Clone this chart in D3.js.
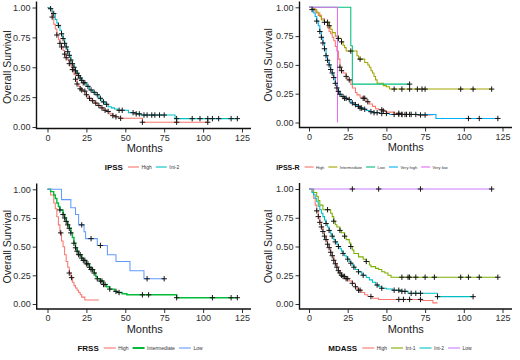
<!DOCTYPE html>
<html><head><meta charset="utf-8">
<script src="https://cdn.jsdelivr.net/npm/d3@7"></script>
<style>
body{margin:0;background:#fff}
svg{display:block}
text{font-family:"Liberation Sans",Arial,sans-serif}
</style>
</head><body>
<svg id="c" width="520" height="360"></svg>
<script>
// ---------- tick labels ----------
const monthTicks = [0, 25, 50, 75, 100, 125];
const survivalTicks = [0, 0.25, 0.5, 0.75, 1];

// ---------- IPSS ----------
const ipssGroups = ["High", "Int-2"];
const ipssHighSteps = [[0,1],[2,0.97],[3,0.92],[4,0.86],[5,0.82],[6,0.77],[7,0.73],[8,0.70],[9,0.67],[10,0.64],[11,0.61],[12,0.58],[13,0.56],[14,0.53],[15,0.51],[16,0.48],[17,0.44],[18,0.40],[19,0.36],[20,0.34],[21,0.32],[22,0.31],[23,0.30],[25,0.27],[26,0.25],[27,0.24],[28,0.22],[30,0.20],[32,0.18],[34,0.16],[36,0.14],[38,0.13],[40,0.11],[42,0.095],[44,0.085],[46,0.073],[61,0.04]];
const ipssHighCensor = [3,6,8,9,11,12,14,16,18,19,21,22,24,25,27,29,31,33,35,37,39,42,44,47,61,83,103];
const ipssHighEnd = 103;
const ipssInt2Steps = [[0,1],[1,0.99],[3,0.95],[5,0.90],[6,0.87],[7,0.85],[8,0.81],[9,0.78],[10,0.74],[11,0.70],[12,0.67],[13,0.63],[14,0.60],[15,0.56],[16,0.53],[17,0.50],[18,0.47],[19,0.45],[20,0.43],[21,0.41],[22,0.39],[23,0.37],[25,0.34],[27,0.31],[29,0.29],[31,0.27],[33,0.24],[35,0.21],[37,0.19],[39,0.17],[41,0.16],[43,0.15],[45,0.14],[52,0.12],[57,0.11],[60,0.10],[82,0.07]];
const ipssInt2Censor = [2,4,7,9,10,11,12,13,14,15,16,17,18,19,20,21,22,23,24,26,28,30,32,34,36,38,46,48,55,57,59,62,64,67,69,72,75,83,93,98,103,106,110,118,122];
const ipssInt2End = 122;

// ---------- IPSS-R ----------
const ipssrGroups = ["High", "Intermediate", "Low", "Very high", "Very low"];
const ipssrHighSteps = [[0,1],[2,0.99],[4,0.96],[6,0.93],[8,0.90],[10,0.87],[12,0.82],[13,0.79],[14,0.77],[15,0.74],[16,0.71],[17,0.66],[18,0.62],[19,0.55],[20,0.48],[21,0.45],[22,0.43],[24,0.40],[25,0.37],[27,0.33],[28,0.30],[30,0.26],[31,0.24],[33,0.22],[35,0.21],[37,0.18],[39,0.16],[41,0.14],[43,0.12],[45,0.11],[48,0.10],[50,0.09],[55,0.08],[60,0.07],[70,0.065]];
const ipssrHighCensor = [20,21,24,26,35,36,38,47,48,58,60,62,65,69,72,75];
const ipssrHighEnd = 80;
const ipssrIntSteps = [[0,1],[3,0.98],[5,0.95],[7,0.92],[8,0.89],[10,0.87],[13,0.84],[14,0.81],[15,0.78],[17,0.75],[19,0.73],[21,0.70],[22,0.67],[23,0.65],[24,0.62],[31,0.58],[32,0.55],[36,0.52],[38,0.50],[39,0.48],[40,0.45],[41,0.43],[42,0.40],[43,0.37],[44,0.34],[48,0.32],[50,0.31],[52,0.29]];
const ipssrIntCensor = [10,12,13,19,21,27,33,55,60,65,70,73,75,98,106,118];
const ipssrIntEnd = 118;
const ipssrLowSteps = [[0,1],[27,0.667],[28,0.333]];
const ipssrLowCensor = [65];
const ipssrLowEnd = 65;
const ipssrVhighSteps = [[0,1],[2,0.98],[3,0.95],[4,0.92],[5,0.88],[6,0.84],[7,0.79],[8,0.74],[9,0.69],[10,0.64],[11,0.58],[12,0.54],[13,0.50],[14,0.46],[15,0.43],[16,0.39],[17,0.34],[18,0.30],[19,0.27],[20,0.245],[21,0.225],[23,0.21],[25,0.20],[27,0.17],[29,0.155],[31,0.14],[33,0.125],[35,0.115],[37,0.105],[39,0.094],[42,0.085],[46,0.078],[52,0.07],[82,0.035]];
const ipssrVhighCensor = [2,5,7,8,9,10,11,12,13,14,15,16,17,18,19,20,22,23,24,26,28,30,32,33,34,36,40,42,44,47,50,55,58,60,63,66,103,110,122];
const ipssrVhighEnd = 122;
const ipssrVlowSteps = [[0,1],[18.4,0]];
const ipssrVlowCensor = [];
const ipssrVlowEnd = 18.4;

// ---------- FRSS ----------
const frssGroups = ["High", "Intermediate", "Low"];
const frssHighSteps = [[0,1],[2,0.95],[4,0.88],[5,0.83],[6,0.76],[7,0.69],[8,0.62],[9,0.55],[10,0.50],[11,0.43],[12,0.37],[13,0.32],[14,0.27],[15,0.23],[16,0.19],[17,0.16],[18,0.14],[19,0.12],[20,0.10],[21,0.08],[22,0.06],[24,0.035]];
const frssHighCensor = [8.5,14,15.5];
const frssHighEnd = 33;
const frssIntSteps = [[0,1],[2,0.98],[4,0.95],[5,0.92],[6,0.88],[7,0.85],[8,0.82],[10,0.78],[11,0.75],[12,0.72],[13,0.69],[14,0.66],[15,0.62],[16,0.58],[17,0.53],[18,0.49],[19,0.46],[20,0.43],[22,0.40],[23,0.38],[25,0.35],[27,0.32],[28,0.30],[30,0.27],[31,0.24],[32,0.22],[34,0.20],[36,0.17],[38,0.15],[40,0.13],[43,0.11],[45,0.10],[48,0.09],[51,0.08],[83,0.055]];
const frssIntCensor = [8,10,11,12,13,14,15,17,18,19,20,21,22,23,24,25,26,27,28,29,30,32,34,35,36,37,40,44,46,61,65,83,106,118,122];
const frssIntEnd = 122;
const frssLowSteps = [[0,1],[9,0.91],[15,0.84],[18,0.78],[20,0.69],[23.5,0.63],[24.5,0.57],[32,0.51],[38.5,0.43],[44,0.37],[53,0.29],[62,0.22]];
const frssLowCensor = [22,28,34,64,75];
const frssLowEnd = 75;

// ---------- MDASS ----------
const mdassGroups = ["High", "Int-1", "Int-2", "Low"];
const mdassHighSteps = [[0,1],[2,0.97],[3,0.92],[4,0.86],[5,0.81],[6,0.76],[7,0.71],[8,0.67],[9,0.63],[10,0.59],[11,0.56],[12,0.52],[13,0.49],[14,0.45],[15,0.42],[16,0.38],[17,0.35],[18,0.32],[19,0.29],[20,0.27],[21,0.25],[22,0.24],[24,0.22],[26,0.20],[28,0.18],[30,0.15],[31,0.13],[32,0.12],[34,0.10],[36,0.08],[38,0.065],[41,0.05],[45,0.04],[73,0.03],[80,0.01]];
const mdassHighCensor = [5,6,7,8,9,10,11,12,13,14,15,16,17,18,19,20,21,22,23,24,25,28,30,32,33,40,58,61,65,72];
const mdassHighEnd = 83;
const mdassInt1Steps = [[0,1],[3,0.97],[5,0.935],[6,0.90],[7,0.86],[9,0.82],[14,0.79],[15,0.76],[16,0.72],[17,0.69],[18,0.67],[20,0.64],[21,0.62],[23,0.59],[24,0.56],[26,0.53],[27,0.50],[28,0.47],[29,0.44],[32,0.41],[35,0.39],[37,0.37],[39,0.34],[40,0.325],[43,0.31],[45,0.30],[47,0.28],[49,0.27],[51,0.25],[53,0.233]];
const mdassInt1Censor = [12,16,20,23,27,37,60,64,65,69,75,81,98,103,110,122];
const mdassInt1End = 122;
const mdassInt2Steps = [[0,1],[2,0.97],[3,0.95],[4,0.92],[5,0.89],[6,0.85],[7,0.82],[8,0.79],[9,0.76],[10,0.73],[11,0.70],[12,0.67],[13,0.64],[14,0.61],[15,0.59],[16,0.56],[17,0.54],[18,0.52],[19,0.50],[20,0.48],[21,0.46],[22,0.44],[23,0.42],[24,0.41],[25,0.39],[26,0.37],[27,0.355],[28,0.34],[29,0.32],[30,0.30],[32,0.28],[34,0.26],[35,0.25],[37,0.23],[39,0.21],[41,0.19],[43,0.165],[45,0.15],[47,0.137],[50,0.13],[54,0.12],[60,0.11],[64,0.093],[83,0.064]];
const mdassInt2Censor = [11,13,15,17,19,22,25,27,29,32,35,44,47,55,58,60,62,66,69,72,83,106];
const mdassInt2End = 106;
const mdassLowSteps = [[0,1]];
const mdassLowCensor = [28,45,72,118];
const mdassLowEnd = 118;

// ---------- colours (ggplot hue palettes) ----------
const pal2 = ["#F8766D", "#00BFC4"];
const pal3 = ["#F8766D", "#00BA38", "#619CFF"];
const pal4 = ["#F8766D", "#7CAE00", "#00BFC4", "#C77CFF"];
const pal5 = ["#F8766D", "#A3A500", "#00BF7D", "#00B0F6", "#E76BF3"];

// ---------- panels (layout in code) ----------
function ser(steps, censor, end){ return {steps, censor, end}; }
const panels = [
  { title:"IPSS", groups:ipssGroups, colors:pal2,
    series:[ser(ipssHighSteps,ipssHighCensor,ipssHighEnd), ser(ipssInt2Steps,ipssInt2Censor,ipssInt2End)],
    L:{x0:47.5,x1:242,y1:7.5,y0:127,axX:36.5,axY:128.5,right:251,top:1.5,tickBase:140.5,monBase:151.5,ylabX:7,legY:167,legCx:142,legFs:5,titleFs:8,keyW:11}},
  { title:"IPSS-R", groups:ipssrGroups, colors:pal5,
    series:[ser(ipssrHighSteps,ipssrHighCensor,ipssrHighEnd), ser(ipssrIntSteps,ipssrIntCensor,ipssrIntEnd), ser(ipssrLowSteps,ipssrLowCensor,ipssrLowEnd), ser(ipssrVhighSteps,ipssrVhighCensor,ipssrVhighEnd), ser(ipssrVlowSteps,ipssrVlowCensor,ipssrVlowEnd)],
    L:{x0:309,x1:502.5,y1:7.3,y0:122.5,axX:299.5,axY:127.5,right:512,top:1.5,tickBase:140,monBase:151,ylabX:268,legY:167,legCx:362,legFs:4,titleFs:7,keyW:9}},
  { title:"FRSS", groups:frssGroups, colors:pal3, thick:[1],
    series:[ser(frssHighSteps,frssHighCensor,frssHighEnd), ser(frssIntSteps,frssIntCensor,frssIntEnd), ser(frssLowSteps,frssLowCensor,frssLowEnd)],
    L:{x0:47.5,x1:242,y1:189.3,y0:304,axX:36.7,axY:309,right:251,top:183.5,tickBase:321.5,monBase:332.5,ylabX:7,legY:348,legCx:140,legFs:5,titleFs:8,keyW:12}},
  { title:"MDASS", groups:mdassGroups, colors:pal4,
    series:[ser(mdassHighSteps,mdassHighCensor,mdassHighEnd), ser(mdassInt1Steps,mdassInt1Censor,mdassInt1End), ser(mdassInt2Steps,mdassInt2Censor,mdassInt2End), ser(mdassLowSteps,mdassLowCensor,mdassLowEnd)],
    L:{x0:309,x1:502.5,y1:189,y0:304,axX:299.5,axY:309,right:512,top:183,tickBase:322.5,monBase:332.5,ylabX:268,legY:348,legCx:400,legFs:5,titleFs:8,keyW:12}}
];

const svg = d3.select("#c");
const bis = d3.bisector(d => d[0]).right;

panels.forEach(p => {
  const L = p.L;
  const g = svg.append("g");
  const x = d3.scaleLinear().domain([0,125]).range([L.x0, L.x1]);
  const y = d3.scaleLinear().domain([0,1]).range([L.y0, L.y1]);

  // curves
  const line = d3.line().x(d => x(d[0])).y(d => y(d[1])).curve(d3.curveStepAfter);
  p.series.forEach((s, i) => {
    const pts = s.steps.concat([[s.end, s.steps[s.steps.length-1][1]]]);
    g.append("path").attr("d", line(pts)).attr("fill","none")
      .attr("stroke", p.colors[i]).attr("stroke-width", (p.thick && p.thick.includes(i)) ? 1.4 : 1.05);
  });
  // censor marks
  p.series.forEach((s) => {
    s.censor.forEach(t => {
      const sv = s.steps[Math.max(0, bis(s.steps, t) - 1)][1];
      g.append("path").attr("transform", `translate(${x(t)},${y(sv)})`)
        .attr("d","M-2.7,0H2.7M0,-2.7V2.7").attr("stroke","#151515").attr("stroke-width",1);
    });
  });

  // axes
  const ax = g.append("g").attr("transform", `translate(${L.axX},0)`)
    .call(d3.axisLeft(y).tickValues(survivalTicks).tickFormat(d3.format(".2f")).tickSize(4).tickPadding(2).tickSizeOuter(0));
  ax.select(".domain").remove();
  ax.selectAll("text").attr("font-size",9).attr("fill","#2e2e2e").attr("font-family","Liberation Sans, Arial, sans-serif");
  ax.selectAll("line").attr("stroke","#333");
  const bx = g.append("g").attr("transform", `translate(0,${L.axY})`)
    .call(d3.axisBottom(x).tickValues(monthTicks).tickSize(4).tickPadding(1.8).tickSizeOuter(0));
  bx.select(".domain").remove();
  bx.selectAll("text").attr("font-size",9).attr("fill","#2e2e2e").attr("font-family","Liberation Sans, Arial, sans-serif");
  bx.selectAll("line").attr("stroke","#333");
  g.append("path").attr("d", `M${L.axX},${L.top}V${L.axY}H${L.right}`)
    .attr("fill","none").attr("stroke","#111").attr("stroke-width",1.4);

  // axis titles
  g.append("text").attr("x", (L.x0+L.x1)/2).attr("y", L.monBase).attr("text-anchor","middle")
    .attr("font-size",11).attr("fill","#222").text("Months");
  g.append("text").attr("transform", `translate(${L.ylabX},${(L.y0+L.y1)/2}) rotate(-90)`)
    .attr("text-anchor","middle").attr("dominant-baseline","central")
    .attr("font-size",10.5).attr("fill","#222").text("Overall Survival");

  // legend
  const lg = g.append("g");
  let cx = 0;
  const tt = lg.append("text").attr("x",0).attr("y",L.legY).attr("dominant-baseline","central")
    .attr("font-size",L.titleFs).attr("font-weight","bold").attr("fill","#111").text(p.title);
  cx = tt.node().getComputedTextLength() + 5;
  p.groups.forEach((name, i) => {
    lg.append("line").attr("x1",cx).attr("x2",cx+L.keyW).attr("y1",L.legY).attr("y2",L.legY)
      .attr("stroke",p.colors[i]).attr("stroke-width",(p.thick && p.thick.includes(i)) ? 2 : 1.1);
    cx += L.keyW + 2.5;
    const t = lg.append("text").attr("x",cx).attr("y",L.legY).attr("dominant-baseline","central")
      .attr("font-size",L.legFs).attr("fill","#333").text(name);
    cx += t.node().getComputedTextLength() + 4;
  });
  const total = cx - 4;
  lg.attr("transform", `translate(${L.legCx - total/2},0)`);
});
</script>
</body></html>
